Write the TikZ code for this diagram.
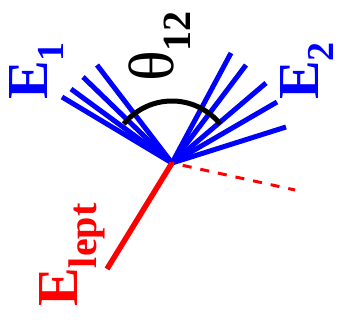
\documentclass[tikz,border=0pt]{standalone}
\usepackage{fontspec}
\setmainfont{Liberation Serif}
\begin{document}
\begin{tikzpicture}[x=1pt,y=1pt,
  jet/.style={draw=blue,line width=5pt},
  lepton/.style={draw=red,line width=5.5pt},
  missing/.style={draw=red,line width=3pt,dash pattern=on 9pt off 9pt,dash phase=7pt},
  angarc/.style={draw=black,line width=5pt},
  lbl/.style={rotate=90,anchor=base west,inner sep=0pt,font=\bfseries},
]
\useasboundingbox (0,0) rectangle (342,-329);
\coordinate (V) at (172,-163);
% jet 1
\coordinate (a1) at (62,-97);
\coordinate (a2) at (71,-89);
\coordinate (a3) at (83,-77);
\coordinate (a4) at (97,-65);
% jet 2
\coordinate (b1) at (231,-53);
\coordinate (b2) at (246,-65);
\coordinate (b3) at (266,-83);
\coordinate (b4) at (277,-102);
\coordinate (b5) at (286,-127);
\coordinate (L) at (107,-269);
\coordinate (M) at (295,-190);
\foreach \p in {a1,a2,a3,a4,b1,b2,b3,b4,b5} \draw[jet] (V) -- (\p);
\draw[lepton] (V) -- (L);
\draw[missing] (V) -- (M);
\draw[angarc] ([shift={(141:62)}]V) arc[start angle=141,end angle=39,radius=62];
% labels
\node[lbl,text=blue] (E1) at (47,-100) {\fontsize{58}{60}\selectfont E\raisebox{-16pt}{\fontsize{38}{40}\selectfont 1}};
\node[lbl,text=blue] (E2) at (318,-100) {\fontsize{58}{60}\selectfont E\raisebox{-15pt}{\fontsize{38}{40}\selectfont 2}};
\node[lbl,text=black] (T) at (173,-82) {\fontsize{64}{64}\selectfont\mdseries θ\raisebox{-17pt}{\fontsize{40}{40}\selectfont\bfseries 12}};
\node[lbl,text=red] (El) at (77,-307) {\fontsize{58}{60}\selectfont E\raisebox{-19pt}{\fontsize{40}{40}\selectfont lept}};
\end{tikzpicture}
\end{document}
